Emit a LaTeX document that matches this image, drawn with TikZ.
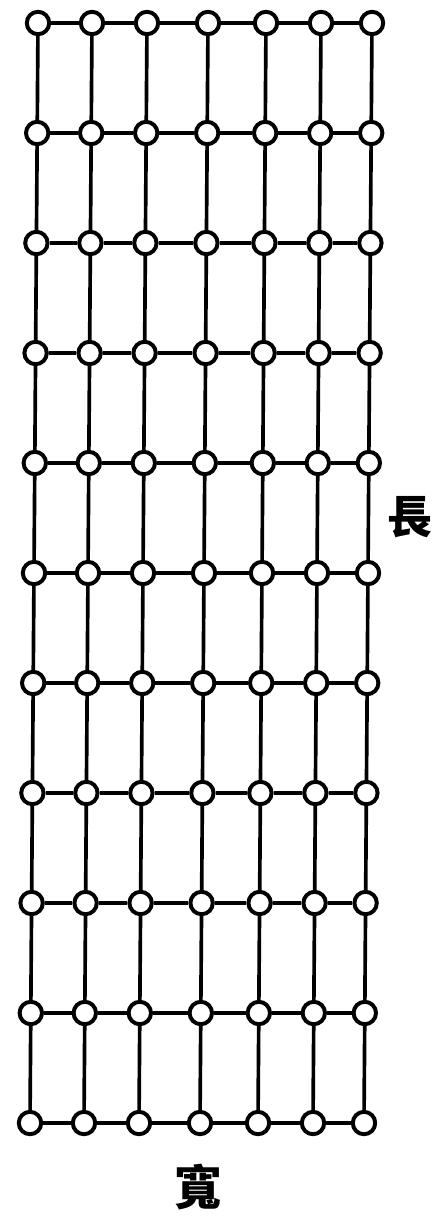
\documentclass[tikz,border=0pt]{standalone}
\usepackage{fontspec}
\newfontfamily\cjk{Noto Sans CJK TC}

\begin{document}
\begin{tikzpicture}[x=0.025cm, y=-0.025cm,
    bead/.style={circle, draw, line width=2.8pt, minimum size=0.56cm, inner sep=0pt},
    rod/.style={line width=2.6pt}]
    \useasboundingbox (0,0) rectangle (435,1224);

    % beads
    \foreach \c/\x in {1/38, 2/92, 3/147, 4/208, 5/266, 6/321, 7/372} {
        \foreach \r in {1,...,11} {
            \node[bead] (n-\c-\r) at ({\x - (\r-1)*0.8}, {23 + (\r-1)*110}) {};
        }
    }

    % rods down
    \foreach \c in {1,...,7} {
        \foreach \r [count=\s from 2] in {1,...,10} {
            \draw[rod] (n-\c-\r) -- (n-\c-\s);
        }
    }

    % rods across
    \foreach \r in {1,...,11} {
        \foreach \c [count=\d from 2] in {1,...,6} {
            \draw[rod] (n-\c-\r) -- (n-\d-\r);
        }
    }

    \node (chang) at (410, 517) {\cjk\bfseries\fontsize{32}{32}\selectfont 長};
    \node (kuan) at (198, 1187) {\cjk\bfseries\fontsize{34}{34}\selectfont 寬};

\end{tikzpicture}
\end{document}
